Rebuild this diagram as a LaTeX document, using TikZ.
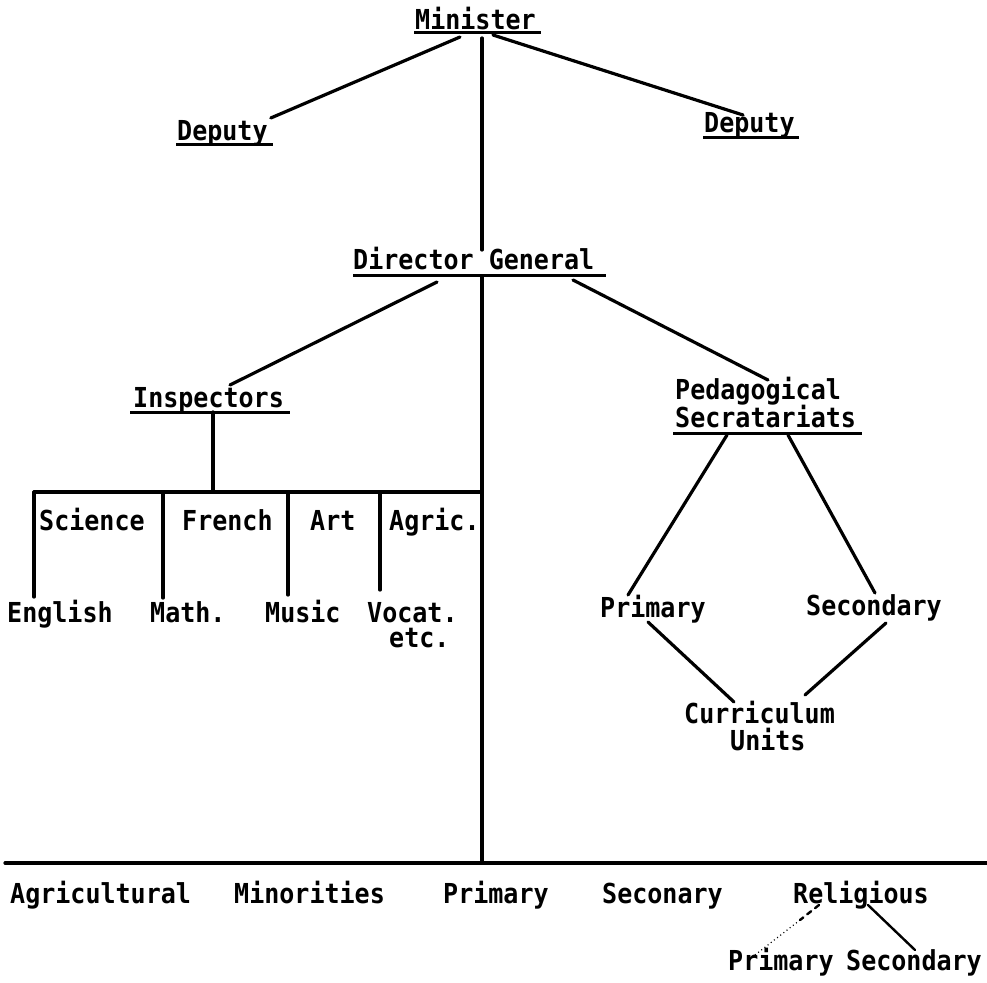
\documentclass[tikz,border=0pt]{standalone}
\usepackage{fontspec}
\newfontfamily\lpf{DejaVu Sans Mono}[FakeStretch=0.91]
\begin{document}
\begin{tikzpicture}[x=1pt,y=-1pt,
  lab/.style={anchor=base west, inner sep=0pt, font={\lpf\bfseries\fontsize{27.5}{30}\selectfont}},
  conn/.style={line width=3.2pt, line cap=round},
  thinconn/.style={line width=2.4pt, line cap=round},
  uline/.style={line width=3pt}]
\useasboundingbox[fill=white] (0,0) rectangle (987,982);

% nodes
\node[lab] (min)  at (415,30)  {Minister};
\node[lab] (depL) at (177,140) {Deputy};
\node[lab] (depR) at (704,132) {Deputy};
\node[lab] (dg)   at (353,269) {Director General};
\node[lab] (insp) at (133,407) {Inspectors};
\node[lab] (sci)  at (39,530)  {Science};
\node[lab] (fr)   at (182,530) {French};
\node[lab] (art)  at (310,530) {Art};
\node[lab] (agr)  at (389,530) {Agric.};
\node[lab] (eng)  at (7,622)   {English};
\node[lab] (math) at (150,622) {Math.};
\node[lab] (mus)  at (265,622) {Music};
\node[lab] (voc)  at (367,622) {Vocat.};
\node[lab] (etc)  at (389,647) {etc.};
\node[lab] (ped1) at (675,399) {Pedagogical};
\node[lab] (ped2) at (675,427) {Secratariats};
\node[lab] (prim) at (600,617) {Primary};
\node[lab] (secy) at (806,615) {Secondary};
\node[lab] (cur)  at (684,723) {Curriculum};
\node[lab] (units) at (730,750) {Units};
\node[lab] (agri) at (10,903)  {Agricultural};
\node[lab] (mino) at (234,903) {Minorities};
\node[lab] (bprim) at (443,903) {Primary};
\node[lab] (secon) at (602,903) {Seconary};
\node[lab] (relig) at (793,903) {Religious};
\node[lab] (bp)   at (728,970) {Primary};
\node[lab] (bs)   at (846,970) {Secondary};

% coordinates
\coordinate (barL) at (34,492);
\coordinate (barR) at (482,492);
\coordinate (bl) at (5,863);
\coordinate (br) at (987,863);
\coordinate (mainbot) at (482,863);

% underlines
\draw[uline] ([shift={(-1,3)}]min.base west) -- ([shift={(5,3)}]min.base east);
\draw[uline] ([shift={(-1,4)}]depL.base west) -- ([shift={(5,4)}]depL.base east);
\draw[uline] ([shift={(-1,5)}]depR.base west) -- ([shift={(4,5)}]depR.base east);
\draw[uline] ([shift={(0,6)}]dg.base west) -- ([shift={(12,6)}]dg.base east);
\draw[uline] ([shift={(-3,5)}]insp.base west) -- ([shift={(6,5)}]insp.base east);
\draw[uline] ([shift={(-2,6)}]ped2.base west) -- ([shift={(6,6)}]ped2.base east);

% connectors
\draw[conn] ([shift={(45,7)}]min.base west) -- ([shift={(3,-22)}]depL.base east);
\draw[conn] ([shift={(78,5)}]min.base west) -- ([shift={(39,-17)}]depR.base west);
\draw[conn] ([shift={(67,8)}]min.base west) -- ([shift={(129,-19)}]dg.base west);
\draw[conn] ([shift={(129,8)}]dg.base west) -- (mainbot);
\draw[conn] ([shift={(84,13)}]dg.base west) -- ([shift={(97,-22)}]insp.base west);
\draw[conn] ([shift={(220,11)}]dg.base west) -- ([shift={(93,-19)}]ped1.base west);
\draw[conn] ([shift={(80,5)}]insp.base west) coordinate (iv) -- (iv |- barL);
\draw[conn] (barL) -- (barR);
\draw[conn] ([shift={(27,-25)}]eng.base west) coordinate (s1) -- (s1 |- barL);
\draw[conn] ([shift={(13,-24)}]math.base west) coordinate (s2) -- (s2 |- barL);
\draw[conn] ([shift={(23,-27)}]mus.base west) coordinate (s3) -- (s3 |- barL);
\draw[conn] ([shift={(13,-32)}]voc.base west) coordinate (s4) -- (s4 |- barL);
\draw[conn] (bl) -- (br);
\draw[conn] ([shift={(52,8)}]ped2.base west) -- ([shift={(28,-22)}]prim.base west);
\draw[conn] ([shift={(113,8)}]ped2.base west) -- ([shift={(69,-22)}]secy.base west);
\draw[conn] ([shift={(48,5)}]prim.base west) -- ([shift={(50,-21)}]cur.base west);
\draw[conn] ([shift={(80,8)}]secy.base west) -- ([shift={(121,-28)}]cur.base west);
\draw[thinconn, dash pattern=on 5pt off 5pt] ([shift={(26,2)}]relig.base west) -- ([shift={(7,17)}]relig.base west) coordinate (rmid);
\draw[line width=1.2pt, dash pattern=on 1pt off 3pt] (rmid) -- ([shift={(27,-15)}]bp.base west);
\draw[thinconn] ([shift={(75,2)}]relig.base west) -- ([shift={(69,-20)}]bs.base west);
\end{tikzpicture}
\end{document}
